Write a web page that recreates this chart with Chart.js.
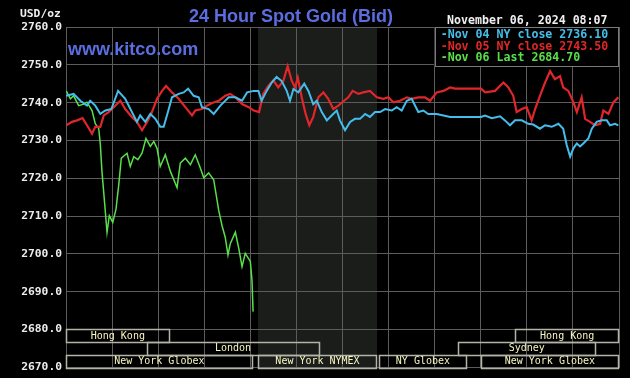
<!DOCTYPE html>
<html>
<head>
<meta charset="utf-8">
<script src="https://cdn.jsdelivr.net/npm/chart.js@4/dist/chart.umd.min.js"></script>
<style>
html,body{margin:0;padding:0;background:#000;}
#wrap{width:630px;height:378px;position:relative;}
</style>
</head>
<body>
<div id="wrap"><canvas id="c" width="630" height="378"></canvas></div>
<script>
// ---- data (x = hours since midnight ET, y = USD/oz) ----
const nov04Hours = [0.00,0.33,0.62,0.91,1.05,1.27,1.49,1.71,1.97,2.26,2.57,2.86,3.08,3.22,3.44,3.66,3.88,4.09,4.24,4.46,4.60,4.89,5.11,5.30,5.54,5.76,5.90,6.19,6.41,6.70,7.06,7.35,7.64,7.86,8.15,8.35,8.49,8.71,8.93,9.14,9.36,9.58,9.72,9.87,10.08,10.34,10.52,10.73,10.88,11.10,11.32,11.53,11.75,11.89,12.11,12.33,12.54,12.76,12.98,13.19,13.41,13.63,13.85,14.14,14.35,14.57,14.79,15.00,15.29,15.51,15.72,16.09,16.38,16.67,16.88,17.32,18.01,18.19,18.48,18.84,19.05,19.27,19.49,19.78,20.06,20.28,20.57,20.79,21.08,21.37,21.58,21.73,21.88,22.02,22.17,22.31,22.45,22.67,22.82,23.03,23.25,23.47,23.61,23.83,23.97];
const nov04Values = [2741.8,2742.3,2740.5,2739.2,2740.5,2739.2,2737.0,2737.9,2738.3,2743.1,2741.0,2737.5,2734.9,2736.6,2734.9,2737.0,2735.7,2733.6,2733.6,2738.3,2741.4,2742.3,2742.7,2743.7,2741.8,2741.4,2738.8,2738.3,2737.0,2739.2,2741.4,2741.4,2740.5,2742.7,2743.1,2743.1,2740.5,2743.1,2745.3,2746.8,2745.7,2743.1,2740.5,2743.6,2742.7,2745.0,2743.1,2739.6,2740.5,2737.5,2735.3,2736.6,2737.9,2735.3,2732.7,2734.9,2735.7,2735.7,2737.0,2736.2,2737.5,2737.5,2738.3,2737.9,2738.8,2737.9,2740.5,2741.0,2737.5,2737.9,2737.0,2737.0,2736.6,2736.2,2736.2,2736.2,2736.2,2736.6,2735.9,2736.4,2735.3,2734.0,2735.3,2735.3,2734.4,2734.2,2733.1,2734.0,2733.6,2734.4,2733.1,2728.8,2725.7,2727.9,2729.2,2728.4,2729.2,2730.5,2733.1,2734.9,2735.3,2735.3,2734.0,2734.4,2734.0];

const nov05Hours = [0.01,0.26,0.48,0.72,0.91,1.13,1.27,1.49,1.64,1.85,2.14,2.36,2.57,2.86,3.08,3.30,3.52,3.73,3.95,4.17,4.34,4.60,4.89,5.18,5.47,5.61,5.90,6.12,6.34,6.63,6.91,7.13,7.35,7.64,7.93,8.15,8.38,8.56,8.78,9.00,9.21,9.43,9.62,9.80,9.94,10.06,10.23,10.40,10.56,10.73,10.95,11.17,11.38,11.60,11.82,11.99,12.25,12.44,12.69,12.90,13.19,13.49,13.77,13.99,14.21,14.50,14.79,15.00,15.29,15.58,15.80,16.09,16.38,16.67,16.88,17.32,18.01,18.19,18.62,18.98,19.20,19.41,19.56,19.78,19.99,20.21,20.36,20.57,20.79,21.01,21.22,21.44,21.58,21.80,22.02,22.17,22.38,22.53,22.74,22.96,23.18,23.32,23.54,23.76,23.97];
const nov05Values = [2734.0,2734.9,2735.3,2735.9,2734.0,2731.8,2733.6,2733.6,2736.6,2737.5,2739.2,2740.5,2738.3,2736.2,2734.9,2732.7,2734.9,2737.5,2741.0,2743.1,2744.4,2742.7,2741.0,2738.8,2736.6,2737.9,2738.3,2739.2,2739.9,2740.5,2741.8,2742.3,2741.4,2739.6,2738.8,2737.9,2737.5,2742.3,2744.4,2745.9,2744.0,2745.7,2749.6,2745.7,2744.0,2746.6,2741.4,2737.0,2734.0,2736.2,2741.4,2742.7,2741.0,2738.3,2739.2,2740.1,2741.4,2743.1,2742.3,2742.7,2743.1,2741.4,2741.0,2741.4,2740.1,2740.5,2741.4,2741.0,2741.4,2741.4,2740.5,2742.7,2743.1,2744.0,2743.7,2743.7,2743.7,2742.7,2743.1,2745.3,2744.0,2741.8,2737.5,2738.3,2738.8,2735.3,2738.3,2741.8,2745.3,2748.3,2746.2,2747.0,2744.0,2743.1,2740.1,2737.5,2741.4,2735.7,2734.9,2734.0,2734.4,2737.9,2737.0,2740.1,2741.4];

const nov06Hours = [0.01,0.19,0.33,0.55,0.77,0.91,1.13,1.27,1.42,1.49,1.56,1.68,1.78,1.88,2.03,2.17,2.29,2.40,2.65,2.79,2.94,3.12,3.30,3.47,3.66,3.81,3.95,4.09,4.31,4.53,4.82,4.96,5.18,5.40,5.61,5.83,5.98,6.19,6.41,6.63,6.77,6.91,7.03,7.13,7.35,7.50,7.64,7.78,8.00,8.07,8.12];
const nov06Values = [2743.1,2741.0,2741.8,2739.2,2739.6,2740.1,2737.9,2734.4,2733.1,2729.0,2721.8,2713.1,2705.7,2710.1,2708.3,2711.8,2718.3,2725.3,2726.6,2723.1,2725.7,2724.9,2726.6,2730.5,2728.4,2729.7,2727.9,2723.1,2726.2,2721.8,2717.5,2724.0,2725.3,2723.6,2726.2,2722.7,2720.1,2721.4,2719.6,2711.4,2707.5,2704.4,2699.7,2702.7,2705.7,2701.4,2696.6,2700.1,2698.0,2693.1,2684.7];

const legendLabels = ["-Nov 04 NY close 2736.10", "-Nov 05 NY close 2743.50", "-Nov 06 Last 2684.70"];
const yTicks = [2670,2680,2690,2700,2710,2720,2730,2740,2750,2760];

const sessionNames = ["Hong Kong","London","New York Globex","New York NYMEX","NY Globex","New York Globex","Sydney","Hong Kong"];
const sessionStart = [0, 3.5, 0, 8.33, 13.58, 18.0, 17.0, 19.5];
const sessionEnd   = [4.5, 11.0, 8.1, 13.5, 17.4, 24, 23.0, 24];
const sessionRow   = [0, 1, 2, 2, 2, 2, 1, 0];
const nymexShade = [8.33, 13.5];

const titleText = "24 Hour Spot Gold (Bid)";
const dateText = "November 06, 2024 08:07";

// ---- styles ----
const COL_BLUE = "#45bdeb";
const COL_RED = "#e0262a";
const COL_GREEN = "#58e048";
const GRID = "#5c5c5c";
const MONO = "'DejaVu Sans Mono', 'Liberation Mono', monospace";

function pts(h, v){ return h.map((x,i)=>({x:x, y:v[i]})); }

const bgPlugin = {
  id:'bg',
  beforeDraw(chart){
    const ctx = chart.ctx, a = chart.chartArea, x = chart.scales.x;
    ctx.save();
    ctx.fillStyle = "#000";
    ctx.fillRect(0,0,chart.width,chart.height);
    const x0 = x.getPixelForValue(nymexShade[0]), x1 = x.getPixelForValue(nymexShade[1]);
    ctx.fillStyle = "#1b1d1b";
    ctx.fillRect(x0, a.top, x1-x0, a.bottom-a.top);
    ctx.restore();
  },
  beforeDatasetsDraw(chart){
    const ctx = chart.ctx;
    ctx.save();
    ctx.fillStyle = "#5a6ee0";
    ctx.font = "bold 18px 'Liberation Sans', Arial, sans-serif";
    ctx.textBaseline = "alphabetic";
    ctx.textAlign = "left";
    ctx.fillText("www.kitco.com", 68, 55);
    ctx.restore();
  },
  afterDatasetsDraw(chart){
    const ctx = chart.ctx, x = chart.scales.x, y = chart.scales.y;
    ctx.save();
    // sessions
    const rowH = 10/3;
    for (let i=0;i<sessionNames.length;i++){
      const xa = x.getPixelForValue(sessionStart[i]), xb = x.getPixelForValue(sessionEnd[i]);
      const ya = y.getPixelForValue(2680 - sessionRow[i]*rowH);
      const yb = y.getPixelForValue(2680 - (sessionRow[i]+1)*rowH);
      ctx.strokeStyle = "#b4b4a6";
      ctx.lineWidth = 1.5;
      ctx.strokeRect(Math.round(xa)+0.5, Math.round(ya)+0.5, Math.round(xb-xa)-1, Math.round(yb-ya));
      ctx.fillStyle = "#f6f6c2";
      ctx.font = "10px " + MONO;
      ctx.textAlign = "center";
      ctx.textBaseline = "middle";
      ctx.fillText(sessionNames[i], (xa+xb)/2, (ya+yb)/2 + 0.5);
    }
    // legend box
    const lx0 = x.getPixelForValue(16.0), lx1 = x.getPixelForValue(24);
    const ly0 = y.getPixelForValue(2760), ly1 = y.getPixelForValue(2749.7);
    ctx.fillStyle = "#000";
    ctx.fillRect(lx0, ly0, lx1-lx0, ly1-ly0);
    ctx.strokeStyle = "#7a7a7a";
    ctx.lineWidth = 1;
    ctx.strokeRect(Math.round(lx0)+0.5, Math.round(ly0)+0.5, Math.round(lx1-lx0)-1, Math.round(ly1-ly0));
    const cols = [COL_BLUE, COL_RED, COL_GREEN];
    ctx.font = "bold 11.6px " + MONO;
    ctx.textAlign = "left";
    ctx.textBaseline = "alphabetic";
    const bases = [38, 49.5, 61];
    legendLabels.forEach((t,i)=>{ ctx.fillStyle = cols[i]; ctx.fillText(t, lx0+6, bases[i]); });
    ctx.restore();
  },
  afterDraw(chart){
    const ctx = chart.ctx;
    ctx.save();
    ctx.fillStyle = "#5a6ee0";
    ctx.font = "bold 18px 'Liberation Sans', Arial, sans-serif";
    ctx.textAlign = "left";
    ctx.textBaseline = "alphabetic";
    ctx.fillText(titleText, 189, 22);
    ctx.fillStyle = "#f0f0f0";
    ctx.font = "bold 11.3px " + MONO;
    ctx.fillText("USD/oz", 20, 17);
    ctx.font = "bold 11.6px " + MONO;
    ctx.fillText(dateText, 447, 24);
    ctx.restore();
  }
};

new Chart(document.getElementById('c'), {
  type: 'line',
  data: {
    datasets: [
      {label:'Nov 04', data: pts(nov04Hours, nov04Values), borderColor: COL_BLUE, borderWidth: 2, pointRadius: 0, tension: 0, fill:false},
      {label:'Nov 05', data: pts(nov05Hours, nov05Values), borderColor: COL_RED, borderWidth: 2.2, pointRadius: 0, tension: 0, fill:false},
      {label:'Nov 06', data: pts(nov06Hours, nov06Values), borderColor: COL_GREEN, borderWidth: 1.5, pointRadius: 0, tension: 0, fill:false}
    ]
  },
  options: {
    responsive: false,
    animation: false,
    events: [],
    layout: {padding: {top: 27, right: 11, bottom: 6, left: 0}},
    plugins: {legend:{display:false}, tooltip:{enabled:false}, title:{display:false}},
    scales: {
      x: {
        type: 'linear', min: 0, max: 24,
        ticks: {display: false, stepSize: 2},
        grid: {color: GRID, lineWidth: 1, drawTicks: false},
        border: {display: true, color: GRID},
        afterFit(s){ s.height = 0; }
      },
      y: {
        type: 'linear', min: 2670, max: 2760,
        afterBuildTicks(s){ s.ticks = yTicks.map(v=>({value:v})); },
        ticks: {
          color: "#ececec", padding: 4,
          font: {family: "DejaVu Sans Mono", size: 11.3, weight: 'bold'},
          callback: v => Number(v).toFixed(1)
        },
        grid: {color: GRID, lineWidth: 1, drawTicks: false},
        border: {display: true, color: GRID},
        afterFit(s){ s.width = 66; }
      }
    }
  },
  plugins: [bgPlugin]
});
</script>
</body>
</html>
